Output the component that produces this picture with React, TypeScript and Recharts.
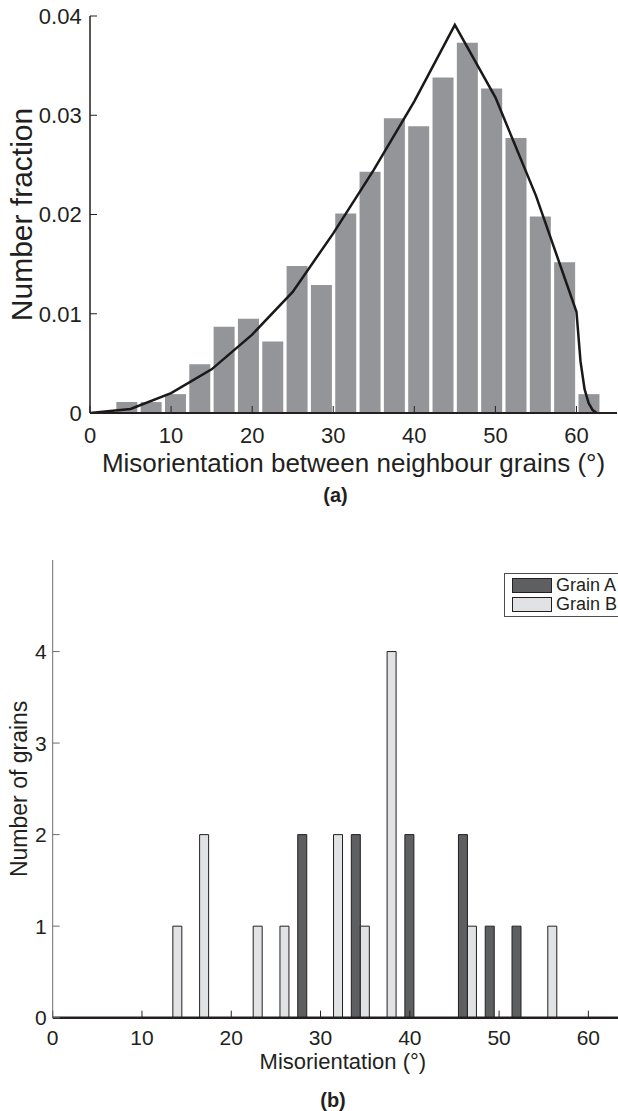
import { ComposedChart, Bar, Line, XAxis, YAxis, Legend } from "recharts";

const FONT = '"Liberation Sans", Arial, Helvetica, sans-serif';
const INK = "#231f20";
const FRAME = "#6d6e70";

// (a) misorientation histogram, 3 degree bins
const binsA = [4.5, 7.5, 10.5, 13.5, 16.5, 19.5, 22.5, 25.5, 28.5, 31.5, 34.5, 37.5, 40.5, 43.5, 46.5, 49.5, 52.5, 55.5, 58.5, 61.5];
const fractionA = [0.0011, 0.0011, 0.0019, 0.0049, 0.0087, 0.0095, 0.0072, 0.0148, 0.0129, 0.0201, 0.0243, 0.0297, 0.0289, 0.0338, 0.0373, 0.0327, 0.0277, 0.0198, 0.0152, 0.0019];

// theoretical curve over (a)
const curveX = [0, 5, 10, 15, 20, 25, 30, 35, 40, 45, 50, 55, 60, 60.5, 61, 61.5, 62, 62.5];
const curveY = [0, 0.0004, 0.002, 0.0044, 0.0079, 0.0122, 0.0181, 0.0245, 0.0314, 0.0391, 0.0318, 0.0219, 0.0102, 0.0052, 0.0024, 0.001, 0.0003, 0];

const xTicksA = [0, 10, 20, 30, 40, 50, 60];
const yTicksA = [0, 0.01, 0.02, 0.03, 0.04];

// (b) grains A and B
const binsB = [1.5, 4.5, 7.5, 10.5, 13.5, 16.5, 19.5, 22.5, 25.5, 28.5, 31.5, 34.5, 37.5, 40.5, 43.5, 46.5, 49.5, 52.5, 55.5, 58.5, 61.5];
const grainA = [0, 0, 0, 0, 0, 0, 0, 0, 0, 2, 0, 2, 0, 2, 0, 2, 1, 1, 0, 0, 0];
const grainB = [0, 0, 0, 0, 1, 2, 0, 1, 1, 0, 2, 1, 4, 0, 0, 1, 0, 0, 1, 0, 0];

const xTicksB = [0, 10, 20, 30, 40, 50, 60];
const yTicksB = [0, 1, 2, 3, 4];

const histA = binsA.map((x, i) => ({ x, f: fractionA[i] }));
const curve = curveX.map((x, i) => ({ x, f: curveY[i] }));
const histB = binsB.map((x, i) => ({ x, a: grainA[i], b: grainB[i] }));

function XTitle({ viewBox, text, lift, size, caption, capX, capLift }: any) {
  const cx = viewBox.x + viewBox.width / 2;
  return (
    <g>
      <text x={cx} y={viewBox.y + lift} textAnchor="middle" fontSize={size} fontFamily={FONT} fill={INK}>
        {text}
      </text>
      <text x={capX} y={viewBox.y + capLift} textAnchor="middle" fontSize={20} fontWeight="bold" fontFamily={FONT} fill={INK}>
        {caption}
      </text>
    </g>
  );
}

function YTitle({ viewBox, text, baseX, size }: any) {
  const cy = viewBox.y + viewBox.height / 2;
  return (
    <text x={0} y={0} transform={`translate(${baseX}, ${cy}) rotate(-90)`} textAnchor="middle" fontSize={size} fontFamily={FONT} fill={INK}>
      {text}
    </text>
  );
}

function GrainLegend({ payload }: any) {
  return (
    <div style={{ border: "1px solid #4d4d4f", background: "#fff", padding: "2px 12px 2px 7px", fontFamily: FONT, fontSize: 18, color: INK }}>
      {(payload || []).map((p: any) => (
        <div key={p.value} style={{ display: "flex", alignItems: "center", height: 19.3, whiteSpace: "nowrap" }}>
          <span style={{ boxSizing: "border-box", display: "inline-block", width: 40, height: 15, background: p.payload?.fill ?? p.color, border: `1.5px solid ${INK}`, marginRight: 4 }} />
          {p.value}
        </div>
      ))}
    </div>
  );
}

const tickA = { fontSize: 22, fill: INK, fontFamily: FONT };
const tickB = { fontSize: 21, fill: INK, fontFamily: FONT };

export default function App() {
  return (
    <div style={{ position: "absolute", left: 0, top: 0, width: 618, height: 1111, overflow: "hidden", background: "#fff", fontFamily: FONT }}>
      <div style={{ position: "absolute", left: 0, top: 0 }}>
        <ComposedChart width={618} height={520} data={histA} margin={{ top: 16, right: 1, bottom: 0, left: 0 }}>
          <XAxis
            dataKey="x"
            type="number"
            domain={[0, 65]}
            ticks={xTicksA}
            allowDataOverflow
            interval={0}
            height={107}
            tickSize={-7}
            tickMargin={21.4}
            tick={tickA}
            axisLine={{ stroke: INK, strokeWidth: 2 }}
            tickLine={{ stroke: INK }}
            label={<XTitle text="Misorientation between neighbour grains (°)" lift={59} size={26} caption="(a)" capX={335.5} capLift={89} />}
          />
          <XAxis
            xAxisId="top"
            orientation="top"
            dataKey="x"
            type="number"
            domain={[0, 65]}
            ticks={xTicksA}
            allowDataOverflow
            interval={0}
            height={0}
            tick={false}
            tickSize={-7}
            axisLine={{ stroke: FRAME }}
            tickLine={{ stroke: FRAME }}
          />
          <YAxis
            type="number"
            domain={[0, 0.04]}
            ticks={yTicksA}
            allowDataOverflow
            interval={0}
            width={90}
            tickSize={-7}
            tickMargin={15.3}
            tick={tickA}
            tickFormatter={(v: number) => (v === 0 ? "0" : v.toFixed(2))}
            axisLine={{ stroke: INK, strokeWidth: 1.5 }}
            tickLine={{ stroke: INK }}
            label={<YTitle text="Number fraction" baseX={31.7} size={30} />}
          />
          <YAxis
            yAxisId="right"
            orientation="right"
            type="number"
            domain={[0, 0.04]}
            ticks={yTicksA}
            allowDataOverflow
            interval={0}
            width={0}
            tick={false}
            tickSize={-7}
            axisLine={{ stroke: FRAME }}
            tickLine={{ stroke: FRAME }}
          />
          <Bar dataKey="f" fill="#939598" barSize={21} isAnimationActive={false} />
          <Line
            data={curve}
            xAxisId="top"
            yAxisId="right"
            dataKey="f"
            type="linear"
            dot={false}
            stroke="#1b1819"
            strokeWidth={2.5}
            isAnimationActive={false}
          />
        </ComposedChart>
      </div>

      <div style={{ position: "absolute", left: 0, top: 540 }}>
        <ComposedChart width={634} height={571} data={histB} barGap={0} margin={{ top: 20, right: 1, bottom: 0, left: 0 }}>
          <XAxis
            dataKey="x"
            type="number"
            domain={[0, 65]}
            ticks={xTicksB}
            allowDataOverflow
            interval={0}
            height={93.3}
            tickSize={-7}
            tickMargin={19.4}
            tick={tickB}
            axisLine={{ stroke: INK, strokeWidth: 2.5 }}
            tickLine={{ stroke: INK }}
            label={<XTitle text="Misorientation (°)" lift={51.6} size={22} caption="(b)" capX={333} capLift={89} />}
          />
          <XAxis
            xAxisId="top"
            orientation="top"
            type="number"
            domain={[0, 65]}
            ticks={xTicksB}
            allowDataOverflow
            interval={0}
            height={0}
            tick={false}
            tickSize={-7}
            axisLine={{ stroke: FRAME }}
            tickLine={{ stroke: FRAME }}
          />
          <YAxis
            type="number"
            domain={[0, 5]}
            ticks={yTicksB}
            allowDataOverflow
            interval={0}
            width={52.7}
            tickSize={-7}
            tickMargin={13}
            tick={tickB}
            axisLine={{ stroke: FRAME }}
            tickLine={{ stroke: FRAME }}
            label={<YTitle text="Number of grains" baseX={26.7} size={23} />}
          />
          <Legend
            layout="vertical"
            align="center"
            verticalAlign="middle"
            content={<GrainLegend />}
            wrapperStyle={{ position: "absolute", left: 504, top: 32.7, width: "auto" }}
          />
          <Bar dataKey="a" name="Grain A" fill="#5e5f61" stroke={INK} strokeWidth={1} barSize={9} isAnimationActive={false} />
          <Bar dataKey="b" name="Grain B" fill="#e1e2e3" stroke={INK} strokeWidth={1} barSize={9} isAnimationActive={false} />
        </ComposedChart>
      </div>
    </div>
  );
}
